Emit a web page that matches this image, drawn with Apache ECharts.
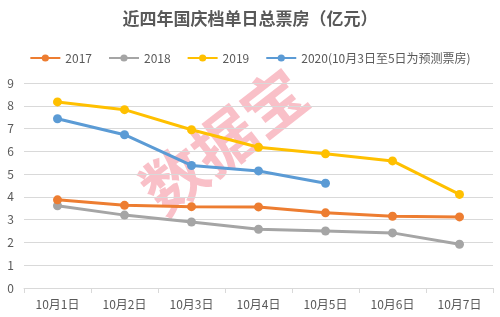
<!DOCTYPE html>
<html><head><meta charset="utf-8">
<script src="https://cdn.jsdelivr.net/npm/echarts@6/dist/echarts.min.js"></script>
<style>html,body{margin:0;padding:0;background:#fff}#c{width:500px;height:317px}</style>
</head><body><div id="c"></div>
<script>
const categories = ['10月1日','10月2日','10月3日','10月4日','10月5日','10月6日','10月7日'];
const s2017 = [3.87, 3.63, 3.57, 3.56, 3.30, 3.15, 3.12];
const s2018 = [3.61, 3.20, 2.90, 2.58, 2.50, 2.42, 1.92];
const s2019 = [8.17, 7.83, 6.95, 6.18, 5.89, 5.58, 4.11];
const s2020 = [7.43, 6.73, 5.38, 5.14, 4.60];
const seriesNames = ['2017','2018','2019','2020(10月3日至5日为预测票房)'];
const colors = ['#ED7D31','#A5A5A5','#FFC000','#5B9BD5'];
const font = '"Noto Sans CJK SC", sans-serif';
const chart = echarts.init(document.getElementById('c'));
const mk = (name, data, color) => ({
  name, type:'line', data, symbol:'circle', symbolSize:9,
  lineStyle:{width:3, color}, itemStyle:{color}, z:3
});
chart.setOption({
  animation:false,
  title:{text:'近四年国庆档单日总票房（亿元）', left:'center', top:5,
    textStyle:{fontFamily:font, fontSize:17, fontWeight:'bold', color:'#595959'}},
  legend:{top:47, left:'center', itemWidth:30, itemHeight:9, itemGap:16,
    textStyle:{fontFamily:font, fontSize:12, color:'#595959'},
    data:seriesNames},
  grid:{left:24, right:7, top:83, bottom:29},
  xAxis:{type:'category', data:categories, boundaryGap:true,
    axisLine:{lineStyle:{color:'#d9d9d9'}},
    axisTick:{show:true, length:5, lineStyle:{color:'#d9d9d9'}},
    axisLabel:{fontFamily:font, fontSize:12, color:'#595959', margin:10}},
  yAxis:{type:'value', min:0, max:9, interval:1,
    axisLine:{show:false}, axisTick:{show:false},
    splitLine:{lineStyle:{color:'#d9d9d9'}},
    axisLabel:{fontFamily:font, fontSize:12, color:'#595959', margin:10}},
  graphic:[{type:'text', left:130, top:58, rotation:Math.PI*0.21, z:0,
    style:{text:'数据宝', fontSize:63, fontWeight:'bold', fontFamily:font, fill:'rgba(240,90,110,0.38)'}}],
  series:[
    mk(seriesNames[3], s2020, colors[3]),
    mk(seriesNames[2], s2019, colors[2]),
    mk(seriesNames[1], s2018, colors[1]),
    mk(seriesNames[0], s2017, colors[0])
  ]
});
</script></body></html>
